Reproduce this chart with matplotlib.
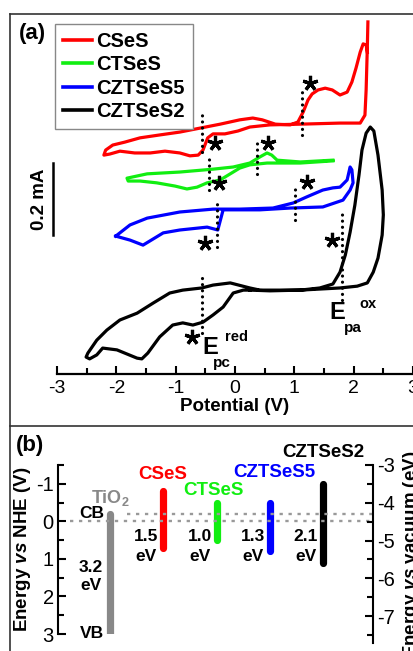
import numpy as np
import matplotlib
matplotlib.use('Agg')
import matplotlib.pyplot as plt
from matplotlib.lines import Line2D
from matplotlib.ticker import MultipleLocator

plt.rcParams['font.family'] = 'Liberation Sans'
plt.rcParams['axes.unicode_minus'] = False
plt.rcParams['mathtext.fontset'] = 'custom'
plt.rcParams['mathtext.rm'] = 'Liberation Sans:bold'
plt.rcParams['mathtext.it'] = 'Liberation Sans:italic:bold'
plt.rcParams['mathtext.bf'] = 'Liberation Sans:bold'

# ---- panel (a): cyclic voltammograms (potential V, current mA incl. offset)
cses_v = [2.24, 2.23, 2.21, 2.19, 2.11, 1.77, 1.10, 0.59, 0.25, 0.05, -0.17, -0.37, -0.46, -0.54, -0.62,
          -0.76, -0.93, -1.18, -1.43, -1.69, -1.94, -2.11, -2.21, -2.18, -2.06, -1.86, -1.60, -1.27, -0.93,
          -0.59, -0.25, 0.08, 0.30, 0.46, 0.68, 0.93, 1.06, 1.15, 1.23, 1.30, 1.40, 1.52, 1.64, 1.77, 1.89,
          1.97, 2.04, 2.11, 2.16, 2.21, 2.23]
cses_i = [0.978, 0.906, 0.789, 0.719, 0.697, 0.697, 0.694, 0.692, 0.686, 0.675, 0.667, 0.667, 0.656, 0.622,
          0.608, 0.606, 0.614, 0.619, 0.614, 0.614, 0.619, 0.611, 0.608, 0.622, 0.636, 0.644, 0.656, 0.664,
          0.672, 0.683, 0.694, 0.706, 0.711, 0.706, 0.694, 0.692, 0.700, 0.728, 0.761, 0.778, 0.789, 0.794,
          0.789, 0.775, 0.783, 0.811, 0.850, 0.894, 0.917, 0.914, 0.894]

ctses_v = [1.65, 1.10, 0.71, 0.62, 0.54, 0.42, 0.25, -0.03, -0.37, -0.93, -1.48, -1.82, -1.80, -1.60, -1.32,
           -1.01, -0.81, -0.64, -0.47, -0.25, -0.03, 0.08, 0.25, 0.54, 1.10, 1.65]
ctses_i = [0.594, 0.589, 0.594, 0.608, 0.614, 0.603, 0.586, 0.575, 0.569, 0.561, 0.556, 0.544, 0.536, 0.536,
           0.531, 0.522, 0.514, 0.519, 0.531, 0.539, 0.561, 0.572, 0.581, 0.586, 0.586, 0.592]

czts5_v = [-2.01, -1.77, -1.48, -0.93, -0.37, 0.08, 0.64, 0.98, 1.21, 1.48, 1.65, 1.77, 1.89, 1.94, 1.97,
           1.99, 1.94, 1.82, 1.48, 0.93, 0.42, 0.00, -0.20, -0.29, -0.47, -0.93, -1.21, -1.55, -1.77, -2.01]
czts5_i = [0.383, 0.414, 0.433, 0.450, 0.458, 0.458, 0.461, 0.475, 0.492, 0.511, 0.517, 0.519, 0.539, 0.575,
           0.567, 0.531, 0.511, 0.483, 0.464, 0.461, 0.456, 0.456, 0.456, 0.400, 0.408, 0.400, 0.392, 0.358,
           0.372, 0.383]

czts2_v = [0.25, 0.59, 1.10, 1.43, 1.65, 1.77, 1.86, 1.94, 2.02, 2.09, 2.14, 2.21, 2.28, 2.34, 2.41, 2.48,
           2.50, 2.48, 2.41, 2.33, 2.23, 2.06, 1.77, 1.10, 0.42, 0.25, -0.08, -0.37, -0.56, -0.88, -1.10,
           -1.38, -1.65, -1.94, -2.16, -2.33, -2.48, -2.51, -2.45, -2.33, -2.23, -1.99, -1.65, -1.57, -1.47,
           -1.27, -1.05, -0.88, -0.71, -0.54, -0.37, -0.20, -0.03, 0.14, 0.25]
czts2_i = [0.233, 0.231, 0.233, 0.239, 0.250, 0.283, 0.331, 0.394, 0.469, 0.553, 0.622, 0.669, 0.686, 0.675,
           0.608, 0.511, 0.442, 0.386, 0.322, 0.283, 0.253, 0.244, 0.239, 0.233, 0.233, 0.239, 0.253, 0.247,
           0.239, 0.233, 0.225, 0.197, 0.169, 0.150, 0.122, 0.094, 0.058, 0.047, 0.042, 0.053, 0.072, 0.067,
           0.044, 0.042, 0.058, 0.103, 0.136, 0.142, 0.136, 0.144, 0.164, 0.186, 0.225, 0.233, 0.233]

# peak markers: dotted guide (potential, current top, current bottom) and star position
guide_v = [-0.56, 1.13, 0.37, -0.44, 1.01, -0.30, -0.56, 1.80]
guide_top = [0.719, 0.794, 0.644, 0.603, 0.517, 0.486, 0.267, 0.456]
guide_bot = [0.617, 0.664, 0.556, 0.511, 0.428, 0.353, 0.114, 0.206]
star_v = [-0.34, 1.27, 0.56, -0.27, 1.21, -0.51, -0.73, 1.64]
star_i = [0.642, 0.808, 0.642, 0.531, 0.533, 0.364, 0.103, 0.372]

# ---- panel (b): band positions vs NHE
materials = ['TiO$_2$', 'CSeS', 'CTSeS', 'CZTSeS5', 'CZTSeS2']
cb_nhe = [-0.2, -0.8, -0.5, -0.5, -1.0]
vb_nhe = [3.0, 0.7, 0.5, 0.8, 1.1]
gaps = ['3.2', '1.5', '1.0', '1.3', '2.1']
colors = ['#888888', '#ff0000', '#11ee11', '#0000ff', '#000000']

W, H = 414, 651
fig = plt.figure(figsize=(W / 100, H / 100), dpi=100)

# panel frames
for xs, ys in [([10, 10], [14, 651]), ([10, 414], [14, 14]), ([10, 414], [426, 426])]:
    fig.add_artist(Line2D([x / W for x in xs], [1 - y / H for y in ys], color='#333333', lw=1.2))

ax = fig.add_axes([57 / W, 1 - 374 / H, 356 / W, 360 / H])
ax.set_xlim(-3, 3)
ax.set_ylim(0, 1)
for s in ['left', 'top', 'right']:
    ax.spines[s].set_visible(False)
ax.spines['bottom'].set_linewidth(1.6)
ax.set_yticks([])
ax.xaxis.set_major_locator(MultipleLocator(1))
ax.xaxis.set_minor_locator(MultipleLocator(0.5))
ax.tick_params(axis='x', which='major', direction='in', length=6, width=1.5, labelsize=14, pad=4)
ax.tick_params(axis='x', which='minor', direction='in', length=4, width=1.5)
ax.set_xlabel('Potential (V)', fontsize=13.5, fontweight='bold', labelpad=1)
ax.patch.set_visible(False)

ax.plot(cses_v, cses_i, color='#ff0000', lw=2.3, label='CSeS', clip_on=False)
ax.plot(ctses_v, ctses_i, color='#11ee11', lw=2.3, label='CTSeS', clip_on=False)
ax.plot(czts5_v, czts5_i, color='#0000ff', lw=2.3, label='CZTSeS5', clip_on=False)
ax.plot(czts2_v, czts2_i, color='#000000', lw=2.3, label='CZTSeS2', clip_on=False)

for v, t, b in zip(guide_v, guide_top, guide_bot):
    ax.plot([v, v], [b, t], color='k', lw=2.3, dashes=(0.01, 1.9), dash_capstyle='round')
ax.plot(star_v, star_i, ls='none', marker=(5, 2, 0), ms=11, mew=2.3, color='k')

ax.text(-0.42, 0.074, 'E', fontsize=17, fontweight='bold', ha='center', va='center')
ax.text(-0.22, 0.030, 'pc', fontsize=11, fontweight='bold', ha='center', va='center')
ax.text(0.03, 0.103, 'red', fontsize=10.5, fontweight='bold', ha='center', va='center')
ax.text(1.72, 0.171, 'E', fontsize=17, fontweight='bold', ha='center', va='center')
ax.text(1.98, 0.128, 'pa', fontsize=11, fontweight='bold', ha='center', va='center')
ax.text(2.24, 0.194, 'ox', fontsize=10.5, fontweight='bold', ha='center', va='center')

# scale bar 0.2 mA
ax.plot([-3.07, -3.07], [0.386, 0.586], color='k', lw=1.8, clip_on=False)
ax.text(-3.29, 0.486, '0.2 mA', rotation=90, fontsize=13.5, fontweight='bold', ha='center', va='center')

leg = ax.legend(loc='upper left', bbox_to_anchor=(55 / W, 1 - 24 / H), bbox_transform=fig.transFigure,
                borderaxespad=0, fancybox=False, edgecolor='#888888', framealpha=1,
                prop={'weight': 'bold', 'size': 14.5}, handlelength=1.45, handletextpad=0.2,
                labelspacing=0.22, borderpad=0.4)
leg.get_frame().set_linewidth(1.0)
for ln in leg.get_lines():
    ln.set_linewidth(2.6)

fig.text(32 / W, 1 - 34 / H, '(a)', fontsize=16, fontweight='bold', ha='center', va='center')
fig.text(30 / W, 1 - 445 / H, '(b)', fontsize=16, fontweight='bold', ha='center', va='center')

# ---- panel (b)
bx = fig.add_axes([58 / W, 1 - 634 / H, 315 / W, 169 / H])
bx.set_xlim(0.02, 5.94)
bx.set_ylim(3, -1.5)
bx.patch.set_visible(False)
for s in ['top', 'bottom', 'right']:
    bx.spines[s].set_visible(False)
bx.spines['left'].set_linewidth(1.5)
bx.set_xticks([])
bx.yaxis.set_major_locator(MultipleLocator(1))
bx.yaxis.set_minor_locator(MultipleLocator(0.5))
bx.tick_params(axis='y', which='major', direction='in', length=6, width=1.5, labelsize=14.5, pad=3)
bx.tick_params(axis='y', which='minor', direction='in', length=4, width=1.5)
bx.set_ylabel(r'Energy $\it{vs}$ NHE (V)', fontsize=13.5, fontweight='bold', labelpad=2)

pos = np.arange(1, len(materials) + 1)
for x, c0, v0, col in zip(pos, cb_nhe, vb_nhe, colors):
    bx.plot([x, x], [c0, v0], color=col, lw=5.2, solid_capstyle='round')

bx.plot([0.245, 5.94], [0, 0], color='#999999', lw=1.7, dashes=(1.4, 2.4), clip_on=False)
bx.plot([1.32, 5.94], [cb_nhe[0], cb_nhe[0]], color='#999999', lw=1.7, dashes=(1.4, 2.4), clip_on=False)

bx.text(pos[0], -0.63, materials[0], color='#888888', fontsize=13, fontweight='bold',
        ha='center', va='center')
bx.text(pos[0] - 0.34, cb_nhe[0], 'CB', fontsize=12.5, fontweight='bold', ha='center', va='center')
bx.text(pos[0] - 0.34, vb_nhe[0], 'VB', fontsize=12.5, fontweight='bold', ha='center', va='center')
bx.text(pos[0] - 0.36, 1.22, gaps[0], fontsize=12.5, fontweight='bold', ha='center', va='center')
bx.text(pos[0] - 0.36, 1.72, 'eV', fontsize=12.5, fontweight='bold', ha='center', va='center')

name_dx = [0, -0.02, -0.06, 0.08, 0.0]
name_y = [0, -1.24, -0.82, -1.30, -1.83]
for k in range(1, len(materials)):
    bx.text(pos[k] + name_dx[k], name_y[k], materials[k], color=colors[k], fontsize=13.5,
            fontweight='bold', ha='center', va='center', clip_on=False)
    bx.text(pos[k] - 0.32, 0.40, gaps[k], fontsize=12.5, fontweight='bold', ha='center', va='center')
    bx.text(pos[k] - 0.32, 0.93, 'eV', fontsize=12.5, fontweight='bold', ha='center', va='center')

# right axis vs vacuum
rx = fig.add_axes([58 / W, 1 - 643 / H, 315 / W, 178 / H])
rx.set_ylim(-7.71, -3.0)
rx.patch.set_visible(False)
for s in ['top', 'bottom', 'left']:
    rx.spines[s].set_visible(False)
rx.spines['right'].set_linewidth(1.5)
rx.set_xticks([])
rx.yaxis.tick_right()
rx.yaxis.set_label_position('right')
rx.yaxis.set_major_locator(MultipleLocator(1))
rx.yaxis.set_minor_locator(MultipleLocator(0.5))
rx.tick_params(axis='y', which='major', direction='in', length=6, width=1.5, labelsize=14.5, pad=3)
rx.tick_params(axis='y', which='minor', direction='in', length=4, width=1.5)
rx.set_ylabel(r'Energy $\it{vs}$ vacuum (eV)', fontsize=13.5, fontweight='bold', labelpad=4)

fig.savefig('out.png', dpi=100)
